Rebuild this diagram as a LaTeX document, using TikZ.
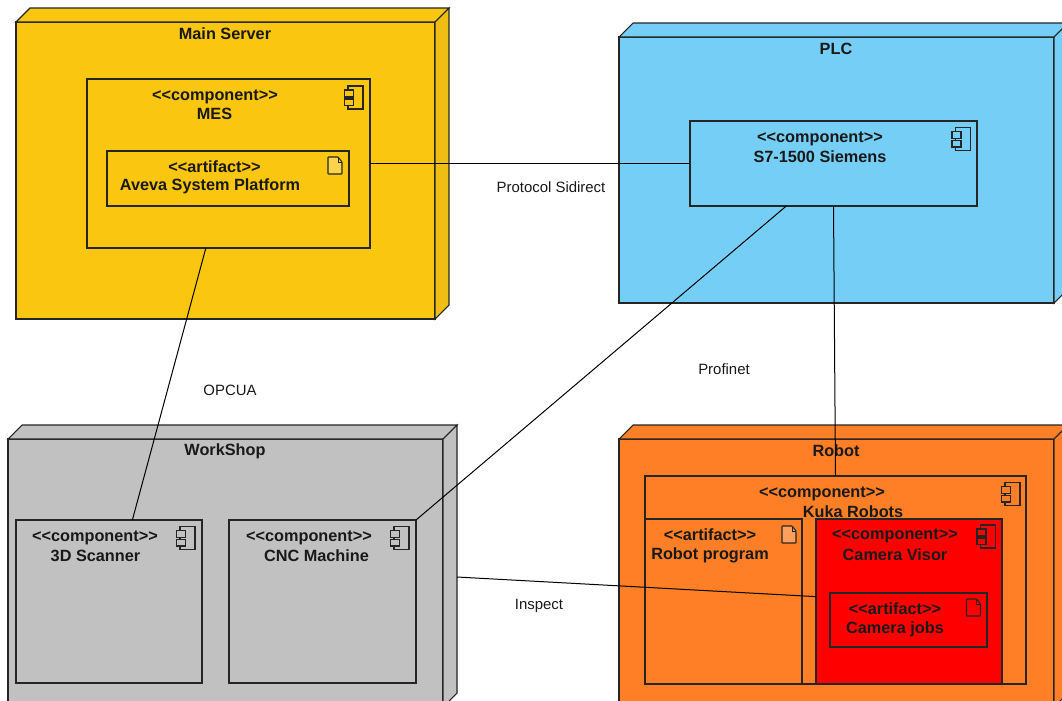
\documentclass[tikz,border=0pt]{standalone}
\usepackage{fontspec}
\setmainfont{Liberation Sans}

\definecolor{serveryellow}{HTML}{FAC60F}
\definecolor{serverside}{HTML}{EEBE12}
\definecolor{plcblue}{HTML}{75CEF6}
\definecolor{shopgray}{HTML}{C1C1C1}
\definecolor{robotorange}{HTML}{FF7F27}
\definecolor{visorred}{HTML}{FF0000}
\definecolor{edge}{HTML}{252525}

\tikzset{
  devicebox/.style={draw=edge, line width=0.8pt, fill=#1, anchor=north west, inner sep=0pt, outer sep=0pt},
  face/.style={draw=edge, line width=0.8pt, fill=#1},
  partbox/.style={draw=edge, line width=0.8pt, anchor=north west, inner sep=0pt, outer sep=0pt},
  size/.style 2 args={minimum width=#1*0.75pt, minimum height=#2*0.75pt},
  boxtext/.style={font=\bfseries\fontsize{12.2}{14}\selectfont, text=black!90, inner sep=0pt},
  linktext/.style={font=\fontsize{11.2}{13}\selectfont, text=black!90, inner sep=0pt},
  link/.style={draw=black, line width=0.75pt},
  compicon/.pic={
    \draw[edge, line width=0.8pt] (-6,-11.5) rectangle (9,11.5);
    \draw[edge, line width=0.8pt, fill=#1] (-9.5,-7.5) rectangle (-0.5,-0.5);
    \draw[edge, line width=0.8pt, fill=#1] (-9.5,1.5) rectangle (-0.5,8);
  },
  docicon/.pic={
    \draw[edge, line width=0.8pt, fill=#1, rounded corners=0.5pt] (-7,-8.5) -- (3,-8.5) -- (7,-3.5) -- (7,8.5) -- (-7,8.5) -- cycle;
    \draw[edge, line width=0.6pt] (3,-8.5) -- (3,-3.5) -- (7,-3.5);
  },
}

% top and side faces of a device box
\newcommand{\devicefaces}[5]{
  \draw[face=#4] (#1.north west) -- ++(14,-14) -- ++(#2,0) -- (#1.north east) -- cycle;
  \draw[face=#5] (#1.north east) -- ++(14,-14) -- ++(0,#3) -- (#1.south east) -- cycle;
}

\begin{document}
\begin{tikzpicture}[x=0.75pt, y=-0.75pt]
\clip (0,0) rectangle (1062,700);

% devices
\node (mainserver) at (16,22) [devicebox=serveryellow, size={419}{297}] {};
\devicefaces{mainserver}{419}{297}{serveryellow}{serverside}
\node (plc) at (619,37) [devicebox=plcblue, size={435}{266}] {};
\devicefaces{plc}{435}{266}{plcblue}{plcblue}
\node (workshop) at (8,439) [devicebox=shopgray, size={435}{268}] {};
\devicefaces{workshop}{435}{268}{shopgray}{shopgray}
\node (robot) at (619,439) [devicebox=robotorange, size={435}{268}] {};
\devicefaces{robot}{435}{268}{robotorange}{robotorange}

% components and artifacts
\node (mes) at (87,79) [partbox, size={283}{169}] {};
\node (aveva) at (107,151) [partbox, size={242}{55}] {};
\node (siemens) at (690,121) [partbox, size={287}{85}] {};
\node (scanner) at (16,520) [partbox, size={186}{163}] {};
\node (cnc) at (229,520) [partbox, size={187}{163}] {};
\node (kuka) at (645,476) [partbox, size={381}{208}] {};
\node (program) at (645,519) [partbox, size={157}{165}] {};
\node (visor) at (816,519) [partbox, fill=visorred, size={186}{165}] {};
\node (jobs) at (830,593) [partbox, size={157}{54}] {};

% icons
\pic at (354,97.5) {compicon=serveryellow};
\pic at (961.5,139) {compicon=plcblue};
\pic at (186,538) {compicon=shopgray};
\pic at (400,538) {compicon=shopgray};
\pic at (1011,494) {compicon=robotorange};
\pic at (986.5,536.5) {compicon=visorred};
\pic at (335,165.5) {docicon=serveryellow!75!white};
\pic at (789,534.5) {docicon=robotorange!75!white};
\pic at (973.5,607.5) {docicon=visorred};

% titles
\node (mainservertitle) at (225,33.5) [boxtext] {Main Server};
\node (plctitle) at (836,48.5) [boxtext] {PLC};
\node (workshoptitle) at (225,451.5) [boxtext] {WorkShop};
\node (robottitle) at (836,451) [boxtext] {Robot};

% box texts
\node (messtereo) at (215,96.5) [boxtext] {<{}<component>{}>};
\node (mesname) at (214.5,114) [boxtext] {MES};
\node (avevastereo) at (214.5,166.5) [boxtext] {<{}<artifact>{}>};
\node (avevaname) at (210,186.5) [boxtext] {Aveva System Platform};
\node (siemensstereo) at (820,138.5) [boxtext] {<{}<component>{}>};
\node (siemensname) at (820,156.5) [boxtext] {S7-1500 Siemens};
\node (scannerstereo) at (95,537.5) [boxtext] {<{}<component>{}>};
\node (scannername) at (95.5,555.5) [boxtext] {3D Scanner};
\node (cncstereo) at (309,537.5) [boxtext] {<{}<component>{}>};
\node (cncname) at (316.5,555.5) [boxtext] {CNC Machine};
\node (kukastereo) at (822,493.5) [boxtext] {<{}<component>{}>};
\node (kukaname) at (853,511.5) [boxtext] {Kuka Robots};
\node (programstereo) at (710,535) [boxtext] {<{}<artifact>{}>};
\node (programname) at (710,555) [boxtext] {Robot program};
\node (visorstereo) at (895,536) [boxtext] {<{}<component>{}>};
\node (visorname) at (895,554.5) [boxtext] {Camera Visor};
\node (jobsstereo) at (895,608.5) [boxtext] {<{}<artifact>{}>};
\node (jobsname) at (895,629) [boxtext] {Camera jobs};

% links
\coordinate (workshopside) at (457,577);
\draw[link] (mes.east) -- (siemens.west);
\draw[link] (mes.-105.5) -- (scanner.74.9);
\draw[link] (siemens.-138.8) -- (cnc.north east);
\draw[link] (siemens.south) -- (kuka.north);
\draw[link] (workshopside) -- (visor.177.2);

\node (sidirectlabel) at (551,187.5) [linktext] {Protocol Sidirect};
\node (opcualabel) at (230,390) [linktext] {OPCUA};
\node (profinetlabel) at (724,369) [linktext] {Profinet};
\node (inspectlabel) at (539,606) [linktext] {Inspect};

\end{tikzpicture}
\end{document}
